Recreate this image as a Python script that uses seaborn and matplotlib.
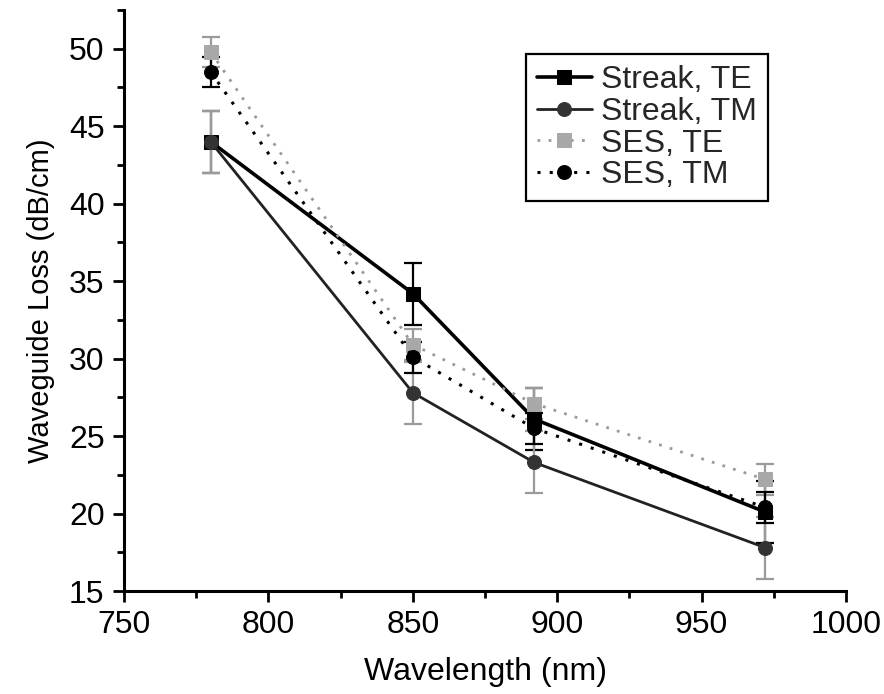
import matplotlib
matplotlib.use("Agg")
import matplotlib.pyplot as plt
from matplotlib.ticker import MultipleLocator
import numpy as np
import pandas as pd
import seaborn as sns

sns.set_theme(style="ticks")
plt.rcParams["font.family"] = ["Liberation Sans", "DejaVu Sans"]

wavelength = [780, 850, 892, 972]
streak_te = [44.0, 34.2, 26.1, 20.1]
streak_tm = [44.0, 27.8, 23.3, 17.8]
ses_te = [49.8, 30.9, 27.1, 22.2]
ses_tm = [48.5, 30.1, 25.5, 20.4]
streak_err = [2.0, 2.0, 2.0, 2.0]
ses_err = [0.95, 1.0, 1.0, 1.0]

labels = ["Streak, TE", "Streak, TM", "SES, TE", "SES, TM"]
values = [streak_te, streak_tm, ses_te, ses_tm]
errors = [streak_err, streak_err, ses_err, ses_err]

styles = {
    "Streak, TE": dict(color="black", marker="s", ls="-", lw=2.6, mfc="black", err="black"),
    "Streak, TM": dict(color="#222222", marker="o", ls="-", lw=2.0, mfc="#333333", err="#9a9a9a"),
    "SES, TE": dict(color="#9a9a9a", marker="s", ls=(0, (1, 3)), lw=2.0, mfc="#a8a8a8", err="#9a9a9a"),
    "SES, TM": dict(color="black", marker="o", ls=(0, (1, 3)), lw=2.2, mfc="black", err="black"),
}

df = pd.DataFrame({
    "Wavelength": np.tile(wavelength, len(labels)),
    "Loss": np.concatenate(values),
    "Err": np.concatenate(errors),
    "Series": np.repeat(labels, len(wavelength)),
})

fig = plt.figure(figsize=(8.84, 6.94), dpi=100)
ax = fig.add_axes([0.1403, 0.1484, 0.8167, 0.8372])

for name in labels:
    st = styles[name]
    sub = df[df["Series"] == name]
    ax.errorbar(sub["Wavelength"], sub["Loss"], yerr=sub["Err"], fmt="none",
                ecolor=st["err"], elinewidth=1.6, capsize=6.5, capthick=1.6, zorder=2)
    sns.lineplot(data=sub, x="Wavelength", y="Loss", ax=ax, color=st["color"],
                 linestyle=st["ls"], linewidth=st["lw"], marker=st["marker"],
                 markersize=10, markerfacecolor=st["mfc"], markeredgecolor=st["mfc"],
                 label=name, zorder=3)

ax.set_xlim(750, 1000)
ax.set_ylim(15, 52.5)
ax.xaxis.set_major_locator(MultipleLocator(50))
ax.xaxis.set_minor_locator(MultipleLocator(25))
ax.yaxis.set_major_locator(MultipleLocator(5))
ax.yaxis.set_minor_locator(MultipleLocator(2.5))
ax.tick_params(axis="both", which="major", direction="out", length=8, width=2,
               labelsize=23, color="black", labelcolor="black", pad=6)
ax.tick_params(axis="both", which="minor", direction="out", length=5, width=2,
               color="black")

for side in ["top", "right"]:
    ax.spines[side].set_visible(False)
for side in ["left", "bottom"]:
    ax.spines[side].set_linewidth(2.2)
    ax.spines[side].set_color("black")

ax.set_xlabel("Wavelength (nm)", fontsize=23, labelpad=12, color="black")
ax.set_ylabel("Waveguide Loss (dB/cm)", fontsize=21, labelpad=10, color="black")

leg = ax.legend(loc="upper left", bbox_to_anchor=(0.557, 0.924), fontsize=23,
                frameon=True, fancybox=False, edgecolor="black", framealpha=1,
                handlelength=1.7, handletextpad=0.3, labelspacing=0.05,
                borderpad=0.35, borderaxespad=0)
leg.get_frame().set_linewidth(1.6)

fig.savefig("out.png", dpi=100, facecolor="white")
